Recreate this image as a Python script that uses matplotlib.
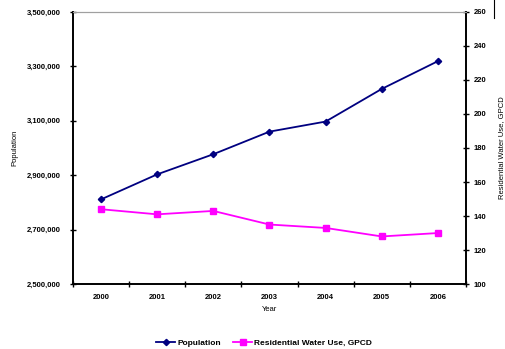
import matplotlib
matplotlib.use('Agg')
import matplotlib.pyplot as plt
import matplotlib.ticker as mticker
import numpy as np

years = ['2000', '2001', '2002', '2003', '2004', '2005', '2006']
population = [2811000, 2903000, 2977000, 3060000, 3097000, 3217000, 3319000]
water_use = [144, 141, 143, 135, 133, 128, 130]

plt.rcParams['font.family'] = ['Liberation Sans', 'DejaVu Sans']
plt.rcParams['font.weight'] = 'bold'
plt.rcParams['font.size'] = 5.5

fig = plt.figure(figsize=(5.06, 3.49), dpi=100)
ax = fig.add_axes([0.144, 0.186, 0.777, 0.780])
ax2 = ax.twinx()

x = np.arange(len(years))
l1, = ax.plot(x, population, color='#000080', marker='D', markersize=3.2, lw=1.3,
              label='Population')
l2, = ax2.plot(x, water_use, color='#ff00ff', marker='s', markersize=4, lw=1.3,
               label='Residential Water Use, GPCD')

ax.set_xlim(-0.5, len(years) - 0.5)
ax.set_ylim(2500000, 3500000)
ax.set_yticks(np.arange(2500000, 3500001, 200000))
ax.yaxis.set_major_formatter(mticker.FuncFormatter(lambda v, p: f'{int(v):,}'))
ax2.set_ylim(100, 260)
ax2.set_yticks(np.arange(100, 261, 20))

ax.set_xticks(np.arange(-0.5, len(years), 1))
ax.set_xticklabels([])
ax.set_xticks(x, minor=True)
ax.set_xticklabels(years, minor=True)
ax.tick_params(axis='x', which='major', direction='inout', length=5, width=1)
ax.tick_params(axis='x', which='minor', length=0, pad=7)
ax.tick_params(axis='y', direction='inout', length=5, width=1, pad=6)
ax2.tick_params(axis='y', direction='inout', length=5, width=1, pad=3)

for a in (ax, ax2):
    a.spines['top'].set_color('#a0a0a0')
    a.spines['top'].set_linewidth(0.8)
    for s in ('left', 'right', 'bottom'):
        a.spines[s].set_linewidth(1.2)

ax.set_xlabel('Year', labelpad=4)
ax.set_ylabel('Population')
ax.yaxis.set_label_coords(-0.138, 0.5)
ax2.set_ylabel('Residential Water Use, GPCD')
ax2.yaxis.set_label_coords(1.082, 0.5)

fig.legend(handles=[l1, l2], loc='center', bbox_to_anchor=(0.522, 0.017),
           ncol=2, frameon=False, handlelength=2.3, handletextpad=0.2,
           columnspacing=1.5, prop={'size': 6, 'weight': 'bold'})

fig.add_artist(plt.Line2D([0.976, 0.976], [0.948, 1.0], color='black', lw=0.8))

fig.savefig('out.png', dpi=100)
